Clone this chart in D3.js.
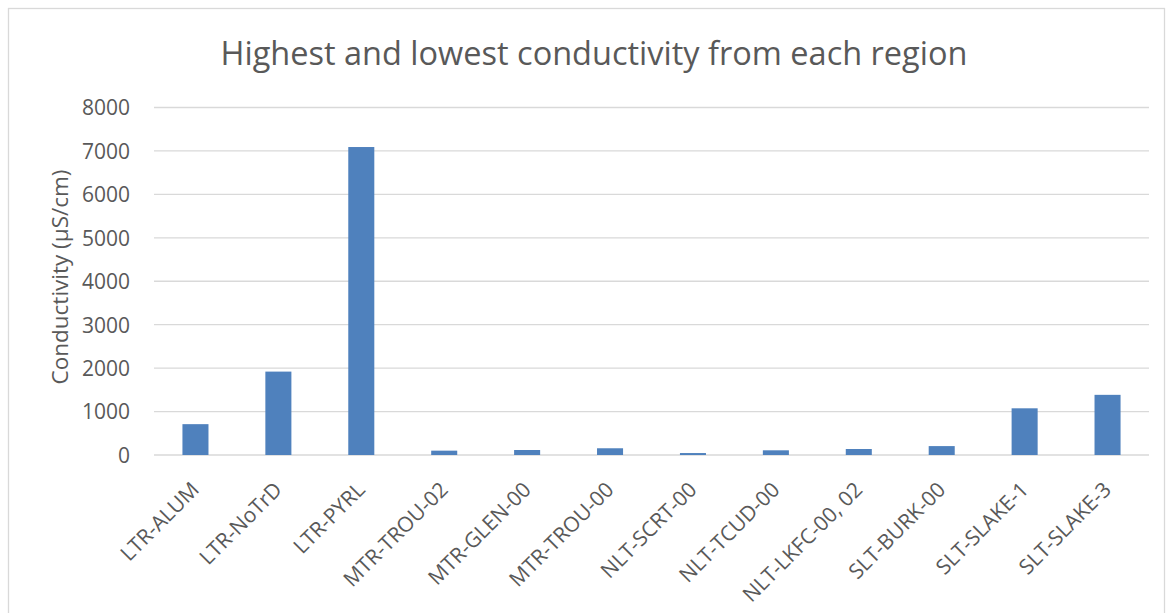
<!DOCTYPE html>
<html>
<head>
<meta charset="utf-8">
<script src="https://cdn.jsdelivr.net/npm/d3@7"></script>
<style>
  html, body { margin: 0; padding: 0; background: #ffffff; }
  svg { display: block; }
</style>
</head>
<body>
<svg id="chart" width="1171" height="613"></svg>
<script>
// Sampling sites and their conductivity readings (µS/cm)
const sites = ["LTR-ALUM", "LTR-NoTrD", "LTR-PYRL", "MTR-TROU-02", "MTR-GLEN-00",
  "MTR-TROU-00", "NLT-SCRT-00", "NLT-TCUD-00", "NLT-LKFC-00, 02", "SLT-BURK-00",
  "SLT-SLAKE-1", "SLT-SLAKE-3"];
const conductivity = [710, 1920, 7090, 100, 115, 155, 45, 108, 138, 205, 1075, 1385];
const yTicks = [0, 1000, 2000, 3000, 4000, 5000, 6000, 7000, 8000];

const chartTitle = "Highest and lowest conductivity from each region";
const yTitle = "Conductivity (µS/cm)";

const FONT = "'Open Sans', 'DejaVu Sans', sans-serif";
const TEXT_COLOR = "#595959";

const svg = d3.select("#chart");
const plot = { left: 154, right: 1149, top: 107.5, bottom: 455 };

// outer chart frame
svg.append("rect")
  .attr("x", 8.5).attr("y", 8.5)
  .attr("width", 1156).attr("height", 640)
  .attr("fill", "#ffffff")
  .attr("stroke", "#d9d9d9").attr("stroke-width", 1.3);

const x = d3.scaleBand()
  .domain(sites)
  .range([plot.left, plot.right])
  .paddingInner(0.686)
  .paddingOuter(0.343);

const y = d3.scaleLinear()
  .domain([0, 8000])
  .range([plot.bottom, plot.top]);

// horizontal gridlines
svg.append("g")
  .selectAll("line")
  .data(yTicks)
  .join("line")
  .attr("x1", plot.left).attr("x2", plot.right)
  .attr("y1", d => y(d)).attr("y2", d => y(d))
  .attr("stroke", "#d9d9d9")
  .attr("stroke-width", d => d === 0 ? 1.6 : 1.3);

// y axis tick labels
const yAxis = d3.axisLeft(y).tickValues(yTicks).tickFormat(d3.format("d")).tickSize(0).tickPadding(0);
const gy = svg.append("g")
  .attr("transform", `translate(${130},0)`)
  .call(yAxis);
gy.select(".domain").remove();
gy.attr("font-size", null).attr("font-family", null);
gy.selectAll("text")
  .attr("font-size", 21)
  .attr("font-family", FONT)
  .attr("fill", TEXT_COLOR)
  .attr("dy", "0.35em");

// bars
svg.append("g")
  .selectAll("rect")
  .data(sites)
  .join("rect")
  .attr("x", d => x(d))
  .attr("width", x.bandwidth())
  .attr("y", (d, i) => y(conductivity[i]))
  .attr("height", (d, i) => y(0) - y(conductivity[i]))
  .attr("fill", "#4f81bd");

// x axis category labels, rotated
const xAxis = d3.axisBottom(x).tickSize(0).tickPadding(0);
const gx = svg.append("g")
  .attr("transform", `translate(0,${plot.bottom})`)
  .call(xAxis);
gx.select(".domain").remove();
gx.attr("font-size", null).attr("font-family", null);
gx.selectAll("text")
  .attr("font-size", 21)
  .attr("font-family", FONT)
  .attr("fill", TEXT_COLOR)
  .attr("text-anchor", "end")
  .attr("dy", null)
  .attr("y", 0)
  .attr("transform", "translate(5,36) rotate(-45)");

// chart title
svg.append("text")
  .attr("x", 594).attr("y", 65)
  .attr("text-anchor", "middle")
  .attr("font-family", FONT)
  .attr("font-size", 32.5)
  .attr("fill", TEXT_COLOR)
  .text(chartTitle);

// y axis title
svg.append("text")
  .attr("transform", `translate(68,${277}) rotate(-90)`)
  .attr("text-anchor", "middle")
  .attr("font-family", FONT)
  .attr("font-size", 22.5)
  .attr("fill", TEXT_COLOR)
  .text(yTitle);
</script>
</body>
</html>
